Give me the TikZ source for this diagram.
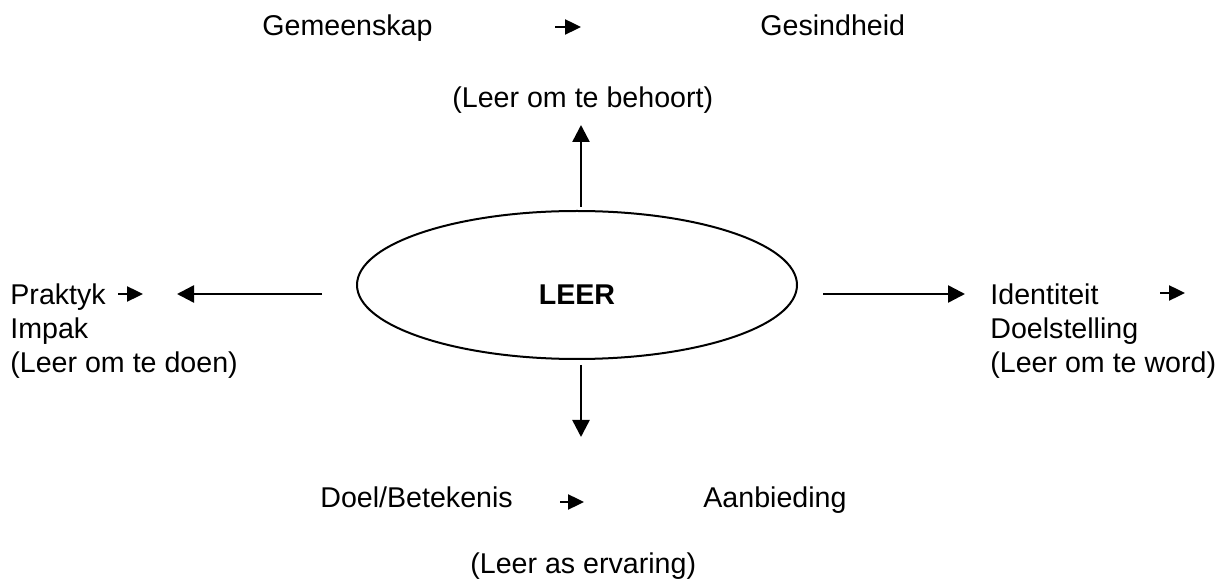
\documentclass[tikz,border=0pt]{standalone}
\usepackage{fontspec}
\setmainfont{Liberation Sans}
\usetikzlibrary{arrows.meta,shapes.geometric}
\tikzset{
  lbl/.style={anchor=base west, inner sep=0pt, font=\fontsize{14.3pt}{17pt}\selectfont, align=left},
  mainarrow/.style={line width=1.25pt, -{Triangle[length=8.5pt,width=8.5pt]}},
  minarrow/.style={line width=1.2pt, -{Triangle[length=8pt,width=7.5pt]}},
  hub/.style={draw, line width=1pt, ellipse, minimum width=220pt, minimum height=74pt, inner sep=0pt}
}
\begin{document}
\begin{tikzpicture}[x=0.5pt,y=-0.5pt]
\useasboundingbox (0,0) rectangle (1232,582);

% central ellipse
\node[hub] (leer) at (577,285) {};
\node[anchor=base, inner sep=0pt, font=\fontsize{14.3pt}{17pt}\selectfont\bfseries] (leertxt) at (577,305) {LEER};

% top group
\node[lbl] (gem) at (262,36) {Gemeenskap};
\node[lbl] (ges) at (760,36) {Gesindheid};
\node[lbl] (beh) at (452,108) {(Leer om te behoort)};

% left group (base anchor sits on the last line)
\node[lbl] (prak) at (10,373) {Praktyk\\Impak\\(Leer om te doen)};

% right group
\node[lbl] (iden) at (990,373) {Identiteit\\Doelstelling\\(Leer om te word)};

% bottom group
\node[lbl] (doel) at (320,508) {Doel/Betekenis};
\node[lbl] (aanb) at (703,508) {Aanbieding};
\node[lbl] (erv) at (470,574) {(Leer as ervaring)};

% connector end points
\coordinate (upS) at (581,207);  \coordinate (upE) at (581,125);
\coordinate (dnS) at (581,365);  \coordinate (dnE) at (581,437);
\coordinate (lfS) at (322,294);  \coordinate (lfE) at (177,294);
\coordinate (rtS) at (823,294);  \coordinate (rtE) at (965,294);

\draw[mainarrow] (upS) -- (upE);
\draw[mainarrow] (dnS) -- (dnE);
\draw[mainarrow] (lfS) -- (lfE);
\draw[mainarrow] (rtS) -- (rtE);

% small inline arrows
\coordinate (tA) at (555,27);   \coordinate (tB) at (581,27);
\coordinate (lA) at (118,294);  \coordinate (lB) at (143,294);
\coordinate (rA) at (1160,293); \coordinate (rB) at (1185,293);
\coordinate (bA) at (560,502);  \coordinate (bB) at (584,502);

\draw[minarrow] (tA) -- (tB);
\draw[minarrow] (lA) -- (lB);
\draw[minarrow] (rA) -- (rB);
\draw[minarrow] (bA) -- (bB);
\end{tikzpicture}
\end{document}
